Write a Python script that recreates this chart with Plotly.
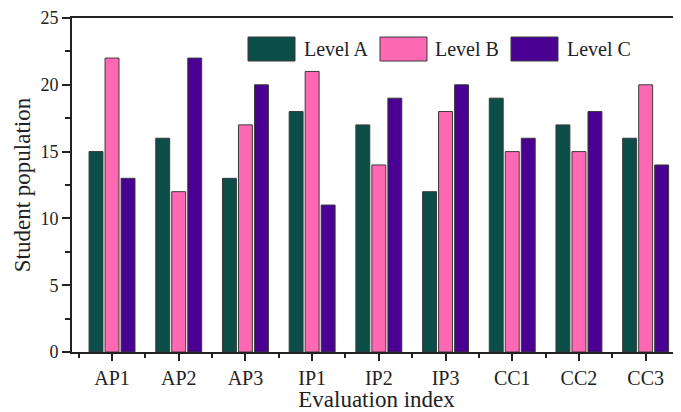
import plotly.graph_objects as go

categories = ["AP1", "AP2", "AP3", "IP1", "IP2", "IP3", "CC1", "CC2", "CC3"]
level_a = [15, 16, 13, 18, 17, 12, 19, 17, 16]
level_b = [22, 12, 17, 21, 14, 18, 15, 15, 20]
level_c = [13, 22, 20, 11, 19, 20, 16, 18, 14]
series_names = ["Level A", "Level B", "Level C"]
series_colors = ["#0b4d47", "#ff69b4", "#4b0094"]
y_ticks = [0, 5, 10, 15, 20, 25]

FONT = "Liberation Serif, Times New Roman, serif"
INK = "#222222"

x_pos = list(range(len(categories)))

fig = go.Figure()
for name, vals, col in zip(series_names, [level_a, level_b, level_c], series_colors):
    fig.add_trace(go.Bar(
        x=x_pos, y=vals, name=name, marker_color=col,
        marker_line=dict(color="#3a3a3a", width=1), showlegend=False,
    ))

# manual legend (large swatches like the reference); page-pixel helpers
L, T, B, W = 72, 18, 352, 609
def px(x):
    return (x - L) / W
def py(y):
    return (B - y) / (B - T)

swatch_x = [248, 380, 511]
text_x = [302, 433, 565]
shapes = []
annotations = []
for sx, tx, name, col in zip(swatch_x, text_x, series_names, series_colors):
    shapes.append(dict(type="rect", xref="paper", yref="paper",
                       x0=px(sx), x1=px(sx + 47), y0=py(61), y1=py(37),
                       fillcolor=col, line=dict(color="#3a3a3a", width=1)))
    annotations.append(dict(xref="paper", yref="paper", x=px(tx), y=py(49),
                            xanchor="left", yanchor="middle", text=name,
                            showarrow=False, font=dict(family=FONT, size=20, color=INK)))

# page body has an 8px margin; compensate so the plot lands where the reference has it
fig.update_layout(
    width=673, height=404,
    margin=dict(l=64, r=0, t=10, b=60),
    plot_bgcolor="white", paper_bgcolor="white",
    barmode="group", bargap=0.28, bargroupgap=0.13,
    font=dict(family=FONT, color=INK),
    shapes=shapes, annotations=annotations,
    xaxis=dict(
        range=[-0.6, 8.53], tickmode="array", tickvals=x_pos, ticktext=categories,
        showline=True, linecolor=INK, linewidth=2, mirror=True,
        ticks="outside", ticklen=7, tickwidth=2, tickcolor=INK,
        minor=dict(tick0=0, dtick=0.5, ticks="outside", ticklen=4, tickwidth=2, tickcolor=INK),
        showgrid=False, zeroline=False,
        tickfont=dict(family=FONT, size=20, color=INK),
        title=dict(text="Evaluation index", font=dict(family=FONT, size=23, color=INK), standoff=2),
    ),
    yaxis=dict(
        range=[0, 25], tickmode="array", tickvals=y_ticks,
        showline=True, linecolor=INK, linewidth=2, mirror=False,
        ticks="outside", ticklen=8, tickwidth=2, tickcolor=INK,
        minor=dict(tick0=0, dtick=2.5, ticks="outside", ticklen=5, tickwidth=2, tickcolor=INK),
        showgrid=False, zeroline=False,
        tickfont=dict(family=FONT, size=18, color=INK),
        title=dict(text="Student population", font=dict(family=FONT, size=23, color=INK), standoff=3),
    ),
)

fig.write_html("out.html")
